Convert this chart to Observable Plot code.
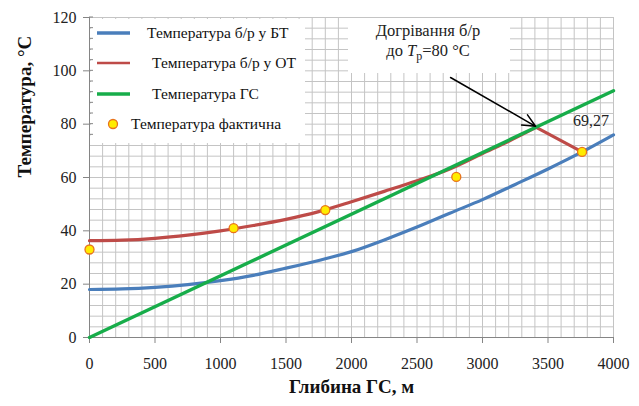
<!DOCTYPE html>
<html><head><meta charset="utf-8">
<script src="https://cdn.jsdelivr.net/npm/d3@7"></script>
<script src="https://cdn.jsdelivr.net/npm/@observablehq/plot@0.6"></script>
<style>
body{margin:0;background:#fff;}
#chart{width:639px;height:406px;}
#chart svg text, #chart svg tspan{font-family:"Liberation Serif","DejaVu Serif",serif !important;}
</style></head><body><div id="chart"></div>
<script>
// ---- data ----
const seriesNames = ["Температура б/р у БТ", "Температура б/р у ОТ", "Температура ГС", "Температура фактична"];
const depthBT = [0, 250, 500, 750, 1000, 1250, 1500, 1750, 2000, 2250, 2500, 2750, 3000, 3250, 3500, 3760, 4000];
const tempBT  = [18, 18.2, 18.8, 19.8, 21.3, 23.3, 26, 28.9, 32.2, 36.6, 41.4, 46.6, 51.7, 57.4, 63.2, 69.6, 76];
const depthOT = [0, 250, 500, 750, 1000, 1250, 1500, 1750, 2000, 2250, 2500, 2750, 3000, 3200, 3410];
const tempOT  = [36.3, 36.5, 37.2, 38.4, 40, 42, 44.3, 47.2, 50.9, 54.8, 58.8, 63.2, 69, 73.6, 78.8];
const depthOTdrop = [3410, 3760];
const tempOTdrop  = [78.8, 69.6];
const depthGS = [0, 4000];
const tempGS  = [0, 92.5];
const depthFact = [0, 1100, 1800, 2800, 3760];
const tempFact  = [33, 41, 47.8, 60.2, 69.6];
const xTicks = [0, 500, 1000, 1500, 2000, 2500, 3000, 3500, 4000];
const yTicks = [0, 20, 40, 60, 80, 100, 120];
const xMinor = d3.range(0, 4001, 100);
const yMinor = d3.range(0, 121, 4);
const endLabel = "69,27";
const annotLines = ["Догрівання б/р", "до ", "T", "p", "=80 °C"];
const arrowFrom = {x: 2756, y: 97.5};
const arrowTo = {x: 3405, y: 79.2};
const xTitle = "Глибина ГС, м";
const yTitle = "Температура, °C";
const colors = ["#4a7ebb", "#be4b48", "#17ad4a"];
const dotFill = "#ffec00", dotStroke = "#e8721c";

const toRows = (xs, ys) => xs.map((x, i) => ({x, y: ys[i]}));
const bt = toRows(depthBT, tempBT);
const ot = toRows(depthOT, tempOT);
const otDrop = toRows(depthOTdrop, tempOTdrop);
const gs = toRows(depthGS, tempGS);
const fact = toRows(depthFact, tempFact);

const FONT = "Liberation Serif";
const ML = 89, MR = 26, MT = 17, MB = 69;

const plot = Plot.plot({
  width: 639, height: 406,
  marginLeft: ML, marginRight: MR, marginTop: MT, marginBottom: MB,
  style: {fontFamily: FONT, fontSize: "16px", background: "#fff", color: "#000"},
  x: {domain: [0, 4000]},
  y: {domain: [0, 120]},
  marks: [
    Plot.ruleX(xMinor, {stroke: "#c4c4c4", strokeWidth: 1}),
    Plot.ruleY(yMinor, {stroke: "#c4c4c4", strokeWidth: 1}),
    Plot.ruleX([0], {stroke: "#858585"}),
    Plot.ruleY([0], {stroke: "#858585"}),
    Plot.axisX({ticks: xTicks, tickFormat: d => String(d), tickSize: 6, tickPadding: 14, label: null, stroke: "#858585", fill: "#222", fontSize: 16}),
    Plot.axisY({ticks: yTicks, tickFormat: d => String(d), tickSize: 6, tickPadding: 7, label: null, stroke: "#858585", fill: "#222", fontSize: 16}),
    Plot.line(bt, {x: "x", y: "y", stroke: colors[0], strokeWidth: 3.2, curve: "monotone-x"}),
    Plot.line(ot, {x: "x", y: "y", stroke: colors[1], strokeWidth: 3.2, curve: "monotone-x"}),
    Plot.line(otDrop, {x: "x", y: "y", stroke: colors[1], strokeWidth: 3.2}),
    Plot.line(gs, {x: "x", y: "y", stroke: colors[2], strokeWidth: 3.4}),
    Plot.arrow([{x1: arrowFrom.x, y1: arrowFrom.y, x2: arrowTo.x, y2: arrowTo.y}],
      {x1: "x1", y1: "y1", x2: "x2", y2: "y2", stroke: "#000", strokeWidth: 1.5, headLength: 14, headAngle: 50}),
    Plot.dot(fact, {x: "x", y: "y", r: 4.5, fill: dotFill, stroke: dotStroke, strokeWidth: 1.3}),
    Plot.text([fact[fact.length - 1]], {x: "x", y: "y", text: () => endLabel, dx: 9, dy: -31, fontSize: 16, fill: "#222"}),
    Plot.text([xTitle], {frameAnchor: "bottom", dy: 55, fontWeight: "bold", fontSize: 19, fill: "#111"}),
    Plot.text([yTitle], {frameAnchor: "left", dx: -65, rotate: -90, fontWeight: "bold", fontSize: 19, fill: "#111"})
  ]
});

document.getElementById("chart").appendChild(plot);

// ---- legend and annotation box (drawn in the frame, above grid) ----
const svg = d3.select(plot);
const sy = plot.scale("y");
const over = svg.append("g").attr("text-anchor", "start");

// legend
const lg = over.append("g");
lg.append("rect").attr("x", ML + 2).attr("y", MT + 2).attr("width", 214).attr("height", 124).attr("fill", "#fff");
lg.selectAll("line.mt").data(yMinor.filter(v => v >= 76)).join("line")
  .attr("x1", ML).attr("x2", ML + 4).attr("y1", d => sy.apply(d)).attr("y2", d => sy.apply(d))
  .style("stroke", "#858585").style("stroke-width", 1);
const rowsY = [MT + 16, MT + 46, MT + 77, MT + 107];
const textX = [ML + 58, ML + 63, ML + 63, ML + 42];
[0, 1, 2].forEach(i => {
  lg.append("line").attr("x1", ML + 8).attr("x2", ML + 41).attr("y1", rowsY[i]).attr("y2", rowsY[i])
    .style("stroke", colors[i]).style("stroke-width", i === 1 ? 2.6 : 3.6);
});
lg.append("circle").attr("cx", ML + 24).attr("cy", rowsY[3]).attr("r", 4.5)
  .style("fill", dotFill).style("stroke", dotStroke).style("stroke-width", 1.3);
seriesNames.forEach((name, i) => {
  lg.append("text").attr("x", textX[i]).attr("y", rowsY[i]).attr("dy", "0.33em")
    .attr("text-anchor", "start").attr("font-size", 15.5).attr("fill", "#111").text(name);
});

// annotation box
const ag = over.append("g");
ag.append("rect").attr("x", 348).attr("y", MT + 1).attr("width", 162).attr("height", 55).attr("fill", "#fff");
ag.append("text").attr("x", 428).attr("y", MT + 19).attr("text-anchor", "middle").attr("font-size", 16.5).attr("fill", "#222").text(annotLines[0]);
const t2 = ag.append("text").attr("x", 428).attr("y", MT + 39).attr("text-anchor", "middle").attr("font-size", 16.5).attr("fill", "#222");
t2.append("tspan").text(annotLines[1]);
t2.append("tspan").attr("font-style", "italic").text(annotLines[2]);
t2.append("tspan").attr("font-size", 12).attr("dy", 4).text(annotLines[3]);
t2.append("tspan").attr("dy", -4).text(annotLines[4]);
</script>
</body></html>
